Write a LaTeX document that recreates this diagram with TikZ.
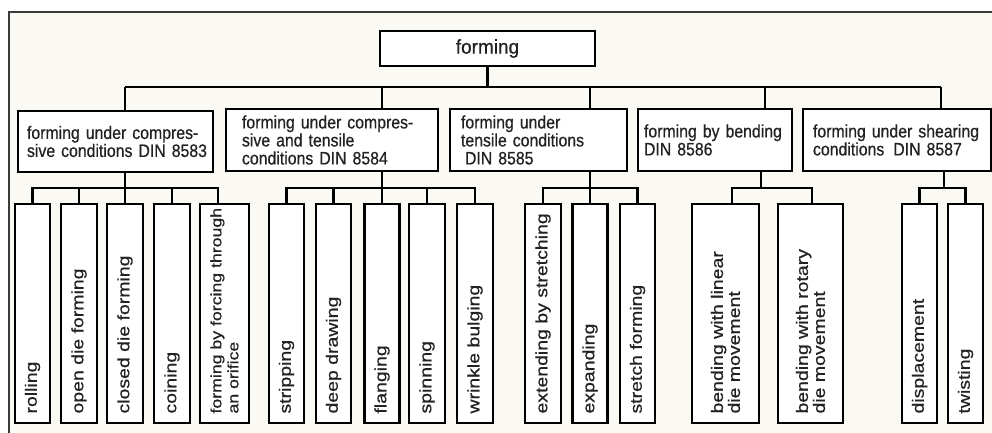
\documentclass[tikz,border=0pt]{standalone}
\usepackage{fontspec}
\usepackage{graphicx}
\setmainfont{Liberation Sans}
\newfontfamily\hfont{Liberation Sans}[FakeStretch=0.88,FakeBold=0.6]
\newfontfamily\vfont{Liberation Sans}[FakeStretch=1.18,FakeBold=0.6]
\newfontfamily\tfont{Liberation Sans}[FakeStretch=0.95,FakeBold=0.6]
\definecolor{bgcol}{HTML}{FBF9F3}
\definecolor{txt}{HTML}{222222}
\definecolor{framecol}{HTML}{3A3A3A}
\newcommand{\leaftext}[2][16.5]{\rotatebox{90}{\parbox{200pt}{\raggedright\fontsize{#1}{17}\vfont #2}}}
\begin{document}
\begin{tikzpicture}[x=1pt,y=-1pt,
  box/.style={draw=black, line width=2.7pt, fill=white, inner sep=0pt, text=txt},
  midbox/.style={box, align=left, font=\fontsize{18}{18}\hfont},
  leaf/.style={box, minimum width=#1, minimum height=219},
  conn/.style={line width=2.7pt, draw=black},
  framestyle/.style={draw=framecol, line width=1.4pt}]
\useasboundingbox (0,0) rectangle (992,433);
\fill[white] (0,0) rectangle (992,433);
\fill[bgcol] (9,12) rectangle (992,433);
\draw[framestyle] (9,433) -- (9,12) -- (992,12);

% root
\node[box, minimum width=215, minimum height=35, font=\fontsize{20}{20}\tfont] (root) at (487.5,48.5) {forming};

% level 2
\node[midbox, minimum width=195, minimum height=61, text width=177] (A) at (115.5,141.5)
  {\mbox{forming under compres-}\\\mbox{sive conditions DIN 8583}};
\node[midbox, minimum width=212, minimum height=62, text width=180] (B) at (332,140)
  {\mbox{forming under compres-}\\\mbox{sive and tensile}\\\mbox{conditions DIN 8584}};
\node[midbox, minimum width=177, minimum height=62, text width=155] (C) at (538.5,140)
  {\mbox{forming under}\\\mbox{tensile conditions}\\\mbox{\hspace*{4pt}DIN 8585}};
\node[midbox, minimum width=154, minimum height=62, text width=142] (D) at (715,140)
  {\mbox{forming by bending}\\\mbox{DIN 8586}};
\node[midbox, minimum width=188, minimum height=62, text width=168] (E) at (897,140)
  {\mbox{forming under shearing}\\\mbox{conditions\enspace DIN 8587}};

% leaves group A
\node[leaf=35] (a1) at (32.5,313.5) {\leaftext{rolling}};
\node[leaf=36] (a2) at (79,313.5) {\leaftext{open die forming}};
\node[leaf=36] (a3) at (125,313.5) {\leaftext{closed die forming}};
\node[leaf=36] (a4) at (172,313.5) {\leaftext{coining}};
\node[leaf=49] (a5) at (224.5,313.5) {\leaftext[15]{\mbox{forming by forcing through}\\\mbox{an orifice}}};
% leaves group B
\node[leaf=35] (b1) at (286.5,313.5) {\leaftext{stripping}};
\node[leaf=35] (b2) at (333.5,313.5) {\leaftext{deep drawing}};
\node[leaf=35] (b3) at (382,313.5) {\leaftext{flanging}};
\node[leaf=36] (b4) at (427,313.5) {\leaftext{spinning}};
\node[leaf=36] (b5) at (475,313.5) {\leaftext{wrinkle bulging}};
% leaves group C
\node[leaf=36] (c1) at (543,313.5) {\leaftext{\mbox{extending by stretching}}};
\node[leaf=35] (c2) at (590,313.5) {\leaftext{expanding}};
\node[leaf=35] (c3) at (637.5,313.5) {\leaftext{stretch forming}};
% leaves group D
\node[leaf=67] (d1) at (725.5,313.5) {\leaftext{\mbox{bending with linear}\\\mbox{die movement}}};
\node[leaf=65] (d2) at (810.5,313.5) {\leaftext{\mbox{bending with rotary}\\\mbox{die movement}}};
% leaves group E
\node[leaf=35] (e1) at (919.5,313.5) {\leaftext{displacement}};
\node[leaf=35] (e2) at (965.5,313.5) {\leaftext{twisting}};

% top-level connectors
\coordinate (busL) at (125,87);
\coordinate (busR) at (941,87);
\coordinate (sB) at (382,87);
\coordinate (sC) at (590,87);
\coordinate (sD) at (765,87);
\draw[conn] (root.south) -- (root.south |- busL);
\draw[conn] (busL) -- (busR);
\draw[conn] (busL) -- (busL |- A.north);
\draw[conn] (sB) -- (sB |- B.north);
\draw[conn] (sC) -- (sC |- C.north);
\draw[conn] (sD) -- (sD |- D.north);
\draw[conn] (busR) -- (busR |- E.north);

% group buses
\coordinate (gA) at (125,188);
\coordinate (gB) at (382,188);
\coordinate (gC) at (590,188);
\coordinate (gD) at (761,188);
\coordinate (gE) at (944,188);

\draw[conn] (gA |- A.south) -- (gA);
\draw[conn] (a1.north) |- ([xshift=-6.5pt]a5.north |- gA) -- ([xshift=-6.5pt]a5.north);
\foreach \n in {a2,a3,a4} \draw[conn] (\n.north) -- (\n.north |- gA);

\draw[conn] (gB |- B.south) -- (gB);
\draw[conn] (b1.north) |- (b5.north |- gB) -- (b5.north);
\foreach \n in {b2,b3,b4} \draw[conn] (\n.north) -- (\n.north |- gB);

\draw[conn] (gC |- C.south) -- (gC);
\draw[conn] (c1.north) |- (c3.north |- gC) -- (c3.north);
\draw[conn] (c2.north) -- (c2.north |- gC);

\draw[conn] (gD |- D.south) -- (gD);
\draw[conn] ([xshift=6.5pt]d1.north) |- ([xshift=1.5pt]d2.north |- gD) -- ([xshift=1.5pt]d2.north);

\draw[conn] (gE |- E.south) -- (gE);
\draw[conn] (e1.north) |- (e2.north |- gE) -- (e2.north);
\end{tikzpicture}
\end{document}
